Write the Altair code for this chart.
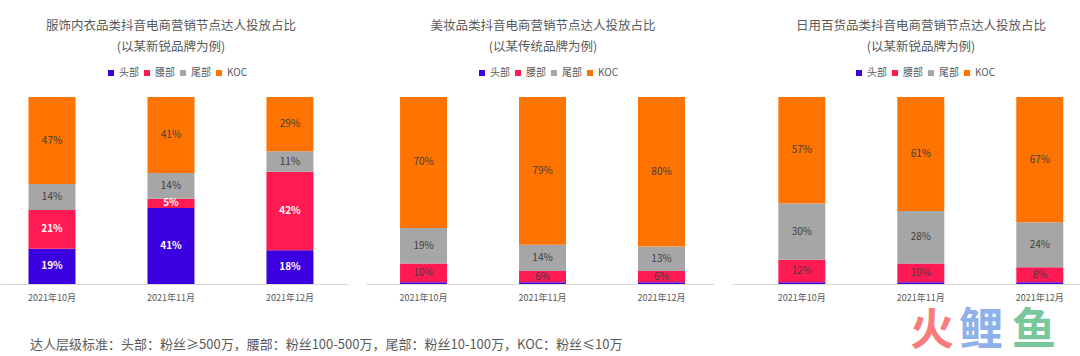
import altair as alt
import pandas as pd

FONT = "Noto Sans CJK SC"
GRAY = "#595959"

months = ["2021年10月", "2021年11月", "2021年12月"]
levels = ["头部", "腰部", "尾部", "KOC"]
colors = ["#3a00e0", "#ff1a53", "#a6a6a6", "#ff7300"]

titles = [
    ["服饰内衣品类抖音电商营销节点达人投放占比", "(以某新锐品牌为例)"],
    ["美妆品类抖音电商营销节点达人投放占比", "(以某传统品牌为例)"],
    ["日用百货品类抖音电商营销节点达人投放占比", "(以某新锐品牌为例)"],
]

# values per level, per month (10月, 11月, 12月)
apparel_head = [19, 41, 18]
apparel_waist = [21, 5, 42]
apparel_tail = [14, 14, 11]
apparel_koc = [47, 41, 29]

beauty_head = [1, 1, 1]
beauty_waist = [10, 6, 6]
beauty_tail = [19, 14, 13]
beauty_koc = [70, 79, 80]

daily_head = [1, 1, 1]
daily_waist = [12, 10, 8]
daily_tail = [30, 28, 24]
daily_koc = [57, 61, 67]

footer_text = "达人层级标准：头部：粉丝≥500万，腰部：粉丝100-500万，尾部：粉丝10-100万，KOC：粉丝≤10万"
logo_chars = ["火", "鲤", "鱼"]
logo_colors = ["#f87c7c", "#8fb1ea", "#7bc79c"]

panels = [
    dict(series=[apparel_head, apparel_waist, apparel_tail, apparel_koc], white=["头部", "腰部"],
         align=0.452, legend_x=106, dx=-3),
    dict(series=[beauty_head, beauty_waist, beauty_tail, beauty_koc], white=[],
         align=0.54, legend_x=111, dx=3),
    dict(series=[daily_head, daily_waist, daily_tail, daily_koc], white=[],
         align=0.735, legend_x=122, dx=15),
]

W = 348
H = 187


def make_panel(p, title):
    rows = []
    for j, m in enumerate(months):
        total = sum(s[j] for s in p["series"])
        cum = 0
        for i, lv in enumerate(levels):
            v = p["series"][i][j]
            rows.append(dict(
                month=m, level=lv, v=v,
                y0=cum / total, y1=(cum + v) / total, mid=(cum + v / 2) / total,
                label=(f"{v}%" if v > 1 else ""),
                white=(lv in p["white"]),
            ))
            cum += v
    df = pd.DataFrame(rows)
    x = alt.X("month:N", sort=months,
              scale=alt.Scale(paddingInner=0.605, paddingOuter=0.265, align=p["align"]),
              axis=alt.Axis(title=None, labelAngle=0, ticks=False, labelFontSize=9,
                            labelColor=GRAY, labelFont=FONT, labelPadding=9,
                            domainColor="#d9d9d9"))
    yscale = alt.Scale(domain=[0, 1], nice=False, zero=True)
    bars = alt.Chart(df).mark_bar().encode(
        x=x,
        y=alt.Y("y0:Q", scale=yscale, axis=None),
        y2="y1:Q",
        color=alt.Color("level:N", sort=levels,
                        scale=alt.Scale(domain=levels, range=colors),
                        legend=alt.Legend(orient="none", legendX=p["legend_x"], legendY=-29,
                                          direction="horizontal", title=None,
                                          symbolType="square", symbolSize=36,
                                          symbolStrokeWidth=0, labelFontSize=10,
                                          labelColor=GRAY, labelFont=FONT,
                                          columnPadding=3, labelOffset=3)),
    )
    txt_white = alt.Chart(df).transform_filter("datum.white").mark_text(
        fontSize=10, font=FONT, fontWeight="bold", color="white", baseline="middle"
    ).encode(x=x, y=alt.Y("mid:Q", scale=yscale, axis=None), text="label:N")
    txt_dark = alt.Chart(df).transform_filter("!datum.white").mark_text(
        fontSize=10, font=FONT, color="#404040", baseline="middle"
    ).encode(x=x, y=alt.Y("mid:Q", scale=yscale, axis=None), text="label:N")
    return alt.layer(bars, txt_white, txt_dark).properties(
        width=W, height=H,
        title=alt.TitleParams(text=title, fontSize=12.5, lineHeight=21, color=GRAY,
                              font=FONT, fontWeight="normal", anchor="middle",
                              dx=p["dx"], offset=15),
    )


top = alt.hconcat(*[make_panel(p, t) for p, t in zip(panels, titles)], spacing=18
                  ).resolve_legend(color="independent").resolve_scale(color="independent")

one = pd.DataFrame({"t": [footer_text]})
foot = alt.Chart(one).mark_text(align="left", baseline="middle", fontSize=13,
                                font=FONT, color=GRAY).encode(
    x=alt.value(30), y=alt.value(43), text="t:N")
logo_layers = []
logo_x = [932, 981, 1034]
for ch, col, lx in zip(logo_chars, logo_colors, logo_x):
    d = pd.DataFrame({"t": [ch]})
    logo_layers.append(alt.Chart(d).mark_text(align="center", baseline="middle", fontSize=44,
                                              font=FONT, fontWeight="bold", color=col).encode(
        x=alt.value(lx), y=alt.value(30), text="t:N"))
footer = alt.layer(foot, *logo_layers).properties(width=1080, height=52)

chart = alt.vconcat(top, footer, spacing=0).properties(
    padding={"left": 0, "right": 0, "top": 19, "bottom": 0},
    background="white",
).configure_view(strokeWidth=0, stroke=None)

chart.save("out.html", embed_options={"renderer": "svg", "actions": False})
